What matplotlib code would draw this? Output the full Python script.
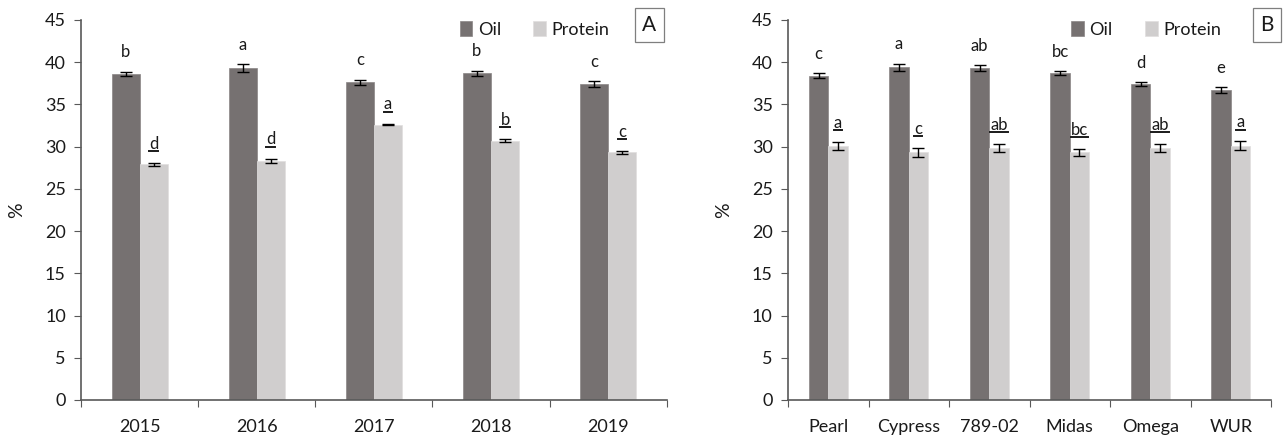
import numpy as np
import matplotlib.pyplot as plt
from matplotlib.lines import Line2D

plt.rcParams['font.family'] = ['Lato', 'DejaVu Sans']

# Panel A: seed composition by harvest year
years = ["2015", "2016", "2017", "2018", "2019"]
oil_year = [38.6, 39.3, 37.6, 38.7, 37.4]
oil_year_err = [0.25, 0.45, 0.3, 0.3, 0.35]
protein_year = [27.9, 28.3, 32.6, 30.7, 29.3]
protein_year_err = [0.15, 0.25, 0.1, 0.2, 0.15]
oil_year_letters = ["b", "a", "c", "b", "c"]
protein_year_letters = ["d", "d", "a", "b", "c"]

# Panel B: seed composition by cultivar
cultivars = ["Pearl", "Cypress", "789-02", "Midas", "Omega", "WUR"]
oil_cv = [38.4, 39.4, 39.3, 38.7, 37.4, 36.7]
oil_cv_err = [0.25, 0.4, 0.3, 0.25, 0.25, 0.35]
protein_cv = [30.1, 29.3, 29.8, 29.3, 29.8, 30.1]
protein_cv_err = [0.45, 0.5, 0.5, 0.4, 0.5, 0.5]
oil_cv_letters = ["c", "a", "ab", "bc", "d", "e"]
protein_cv_letters = ["a", "c", "ab", "bc", "ab", "a"]

OIL_COLOR = "#767171"
PROTEIN_COLOR = "#D0CECE"
AXIS_COLOR = "#595959"
TEXT_COLOR = "#1a1a1a"
BAR_W = 0.24


def draw_panel(ax, cats, oil, oil_err, prot, prot_err, oil_lab, prot_lab):
    x = np.arange(len(cats))
    ax.bar(x - BAR_W / 2, oil, BAR_W, color=OIL_COLOR, edgecolor="#8a8686",
           linewidth=0.5, label="Oil", zorder=2)
    ax.bar(x + BAR_W / 2, prot, BAR_W, color=PROTEIN_COLOR, edgecolor="#e0dede",
           linewidth=0.5, label="Protein", zorder=2)
    ax.errorbar(x - BAR_W / 2, oil, yerr=oil_err, fmt="none", ecolor="black",
                elinewidth=1, capsize=4, capthick=1, zorder=3)
    ax.errorbar(x + BAR_W / 2, prot, yerr=prot_err, fmt="none", ecolor="black",
                elinewidth=1, capsize=4, capthick=1, zorder=3)

    underlined = []
    for i in range(len(cats)):
        ax.text(x[i] - BAR_W / 2, oil[i] + oil_err[i] + 2.3, oil_lab[i],
                ha="center", va="center", fontsize=12, color=TEXT_COLOR)
        t = ax.text(x[i] + BAR_W / 2, prot[i] + prot_err[i] + 1.7, prot_lab[i],
                    ha="center", va="baseline", fontsize=12, color=TEXT_COLOR)
        underlined.append(t)

    ax.set_xlim(-0.5, len(cats) - 0.5)
    ax.set_ylim(0, 45)
    ax.set_yticks(np.arange(0, 46, 5))
    ax.set_xticks(np.arange(len(cats) + 1) - 0.5)
    ax.set_xticklabels([])
    ax.set_xticks(x, minor=True)
    ax.set_xticklabels(cats, minor=True)
    ax.tick_params(axis="x", which="major", direction="out", length=5,
                   color=AXIS_COLOR)
    ax.tick_params(axis="x", which="minor", length=0, pad=14, labelsize=13,
                   labelcolor=TEXT_COLOR)
    ax.tick_params(axis="y", direction="out", length=5, color=AXIS_COLOR,
                   labelsize=13, pad=6, labelcolor=TEXT_COLOR)
    for side in ("top", "right"):
        ax.spines[side].set_visible(False)
    for side in ("left", "bottom"):
        ax.spines[side].set_color(AXIS_COLOR)
        ax.spines[side].set_linewidth(1.2)
    ax.set_ylabel("%", fontsize=14, labelpad=14, color=TEXT_COLOR)
    ax.legend(loc="upper right", bbox_to_anchor=(0.93, 1.04), ncol=2,
              frameon=False, fontsize=13, handlelength=0.7, handleheight=0.9,
              handletextpad=0.3, columnspacing=1.8, labelcolor=TEXT_COLOR)
    return underlined


fig = plt.figure(figsize=(12.87, 4.41), dpi=100)
ax_a = fig.add_axes([0.063, 0.093, 0.455, 0.862])
ax_b = fig.add_axes([0.6123, 0.093, 0.3753, 0.862])

under = draw_panel(ax_a, years, oil_year, oil_year_err, protein_year,
                   protein_year_err, oil_year_letters, protein_year_letters)
under += draw_panel(ax_b, cultivars, oil_cv, oil_cv_err, protein_cv,
                    protein_cv_err, oil_cv_letters, protein_cv_letters)

for label, xpos in (("A", 0.5045), ("B", 0.9845)):
    fig.text(xpos, 0.943, label, ha="center", va="center", fontsize=15,
             color=TEXT_COLOR,
             bbox=dict(boxstyle="square,pad=0.35", facecolor="white",
                       edgecolor="#7f7f7f", linewidth=0.9))

# underline the protein letter groups just below their baseline
fig.canvas.draw()
renderer = fig.canvas.get_renderer()
inv = fig.transFigure.inverted()
for t in under:
    bb = t.get_window_extent(renderer)
    base = t.get_transform().transform(t.get_position())[1]
    y = base - 2.5
    (fx0, fy), (fx1, _) = inv.transform([(bb.x0, y), (bb.x1, y)])
    fig.add_artist(Line2D([fx0, fx1], [fy, fy], color=TEXT_COLOR,
                          linewidth=1.4, transform=fig.transFigure))

fig.savefig("out.png", dpi=100)
